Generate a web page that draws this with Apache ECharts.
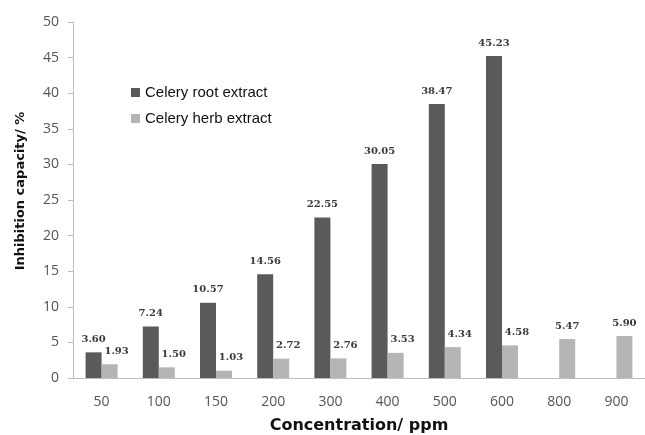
<!DOCTYPE html>
<html><head><meta charset="utf-8">
<script src="https://cdn.jsdelivr.net/npm/echarts@6/dist/echarts.min.js"></script>
<style>html,body{margin:0;padding:0;background:#fff}#c{width:645px;height:435px}</style>
</head><body><div id="c"></div>
<script>
const categories = ['50','100','150','200','300','400','500','600','800','900'];
const rootValues = [3.60, 7.24, 10.57, 14.56, 22.55, 30.05, 38.47, 45.23, null, null];
const herbValues = [1.93, 1.50, 1.03, 2.72, 2.76, 3.53, 4.34, 4.58, 5.47, 5.90];
const yTicks = [0, 5, 10, 15, 20, 25, 30, 35, 40, 45, 50];

const chart = echarts.init(document.getElementById('c'), null, {renderer: 'canvas'});
const labelStyle = {show: true, position: 'top', distance: 8, formatter: p => p.value == null ? '' : p.value.toFixed(2),
  fontFamily: 'DejaVu Serif', fontWeight: 'bold', fontSize: 10, color: '#3a3a3a'};
chart.setOption({
  animation: false,
  grid: {left: 73, right: 0, top: 22, bottom: 57, outerBoundsMode: 'none', containLabel: false},
  legend: {
    orient: 'vertical', left: 126, top: 80, itemGap: 11, itemWidth: 9, itemHeight: 9,
    textStyle: {fontFamily: 'Liberation Sans', fontSize: 15, color: '#111'},
    data: [{name: 'Celery root extract', icon: 'rect'}, {name: 'Celery herb extract', icon: 'rect'}]
  },
  xAxis: {
    type: 'category', data: categories,
    name: 'Concentration/ ppm', nameLocation: 'middle', nameGap: 40,
    nameTextStyle: {fontFamily: 'DejaVu Sans', fontWeight: 'bold', fontSize: 16, color: '#111'},
    axisLine: {lineStyle: {color: '#bdbdbd', width: 1}},
    axisTick: {show: false},
    axisLabel: {fontFamily: 'Open Sans', fontSize: 14, color: '#555', margin: 17}
  },
  yAxis: {
    type: 'value', min: 0, max: 50, interval: 5,
    name: 'Inhibition capacity/ %', nameLocation: 'middle', nameGap: 46, nameRotate: 90,
    nameTextStyle: {fontFamily: 'DejaVu Sans', fontWeight: 'bold', fontSize: 13, color: '#111', padding: [0, 0, 0, 18]},
    axisLine: {show: true, lineStyle: {color: '#bdbdbd', width: 1}},
    axisTick: {show: true, length: 5, lineStyle: {color: '#bdbdbd'}},
    splitLine: {show: false},
    axisLabel: {fontFamily: 'Open Sans', fontSize: 14, color: '#555', margin: 14,
      formatter: v => yTicks.includes(v) ? String(v) : ''}
  },
  series: [
    {name: 'Celery root extract', type: 'bar', data: rootValues, barWidth: 16, barGap: '0%',
     itemStyle: {color: '#5a5a5a'}, label: labelStyle},
    {name: 'Celery herb extract', type: 'bar', data: herbValues, barWidth: 16,
     itemStyle: {color: '#b5b5b5'}, label: labelStyle,
     labelLayout: p => (rootValues[p.dataIndex] != null ? {dx: 7} : {})}
  ]
});
</script></body></html>
